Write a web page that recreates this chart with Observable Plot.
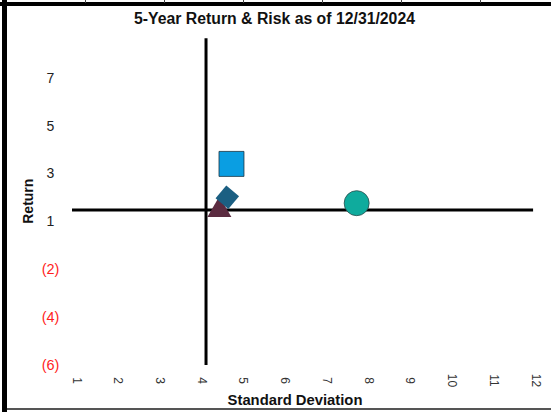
<!DOCTYPE html>
<html><head><meta charset="utf-8">
<script src="https://cdn.jsdelivr.net/npm/d3@7"></script>
<script src="https://cdn.jsdelivr.net/npm/@observablehq/plot@0.6"></script>
<style>
body{margin:0;background:#fff;font-family:"Liberation Sans",Arial,sans-serif}
#wrap{position:relative;width:551px;height:412px;overflow:hidden;background:#fff}
#title{width:549px;height:30px;box-sizing:border-box;padding-top:7px;line-height:24px;text-align:center;font-weight:bold;font-size:15.8px;color:#111}
.deco{position:absolute;background:#000}
</style></head>
<body><div id="wrap">
<div id="title">5-Year Return &amp; Risk as of 12/31/2024</div>
<div id="chart"></div>
</div>
<script>
// ---- data ----
const title = "5-Year Return & Risk as of 12/31/2024";
const xLabel = "Standard Deviation";
const yLabel = "Return";
const xTicks = [1,2,3,4,5,6,7,8,9,10,11,12];
const xTickLabels = ["1","2","3","4","5","6","7","8","9","10","11","12"];
const yTickValues = [7,5,3,1,-1,-3,-5];
const yTickLabels = ["7","5","3","1","(2)","(4)","(6)"];
const stdDev = [4.52, 4.71, 4.81, 7.81];   // triangle, diamond, square, circle
const returns = [1.49, 2.03, 3.42, 1.78];
const crossX = 4.2;   // vertical axis crossing (std dev)
const crossY = 1.5;   // horizontal axis crossing (return)

// ---- styles ----
const markerStyles = [
  {symbol:"triangle", r:8.9, fill:"#5b2b40", stroke:"none"},
  {symbol:"square", r:9.4, fill:"#1b5f82", stroke:"none", rotate:40},
  {symbol:"square", r:14.1, fill:"#0a9ee2", stroke:"#1d3644", strokeWidth:0.8},
  {symbol:"circle", r:12.5, fill:"#0fab9d", stroke:"#2b4b4b", strokeWidth:0.8}
];

const pts = stdDev.map((x,i)=>({x, y: returns[i], i}));
const posIdx = yTickLabels.map((l,i)=>i).filter(i=>!yTickLabels[i].startsWith("("));
const negIdx = yTickLabels.map((l,i)=>i).filter(i=>yTickLabels[i].startsWith("("));

const marks = [
  Plot.ruleX([crossX], {y1: -5, y2: 8.65, stroke:"#000", strokeWidth:3}),
  Plot.ruleY([crossY], {x1: 1, x2: 12.05, stroke:"#000", strokeWidth:3}),
  ...pts.map((p,i)=>Plot.dot([p], {x:"x", y:"y", ...markerStyles[i]})),
  Plot.text(posIdx, {y: i=>yTickValues[i], text: i=>yTickLabels[i], frameAnchor:"left", dx:-22, textAnchor:"middle", fontSize:14, fill:"#222"}),
  Plot.text(negIdx, {y: i=>yTickValues[i], text: i=>yTickLabels[i], frameAnchor:"left", dx:-22, textAnchor:"middle", fontSize:14.5, fill:"#ff1e1e"}),
  Plot.text(xTicks, {x: d=>d, text: (d,i)=>xTickLabels[i], frameAnchor:"bottom", dy:15, rotate:90, textAnchor:"middle", fontSize:12, fill:"#333"}),
  Plot.text([xLabel], {frameAnchor:"bottom", dy:39, dx:-7, text:d=>d, fontSize:14.8, fontWeight:"bold", fill:"#111"}),
  Plot.text([yLabel], {frameAnchor:"left", y: 0.92, dx:-44, text:d=>d, rotate:-90, fontSize:14, fontWeight:"bold", fill:"#111"})
];

const chart = Plot.plot({
  width: 551, height: 382,
  marginLeft: 72, marginRight: 20, marginTop: 7, marginBottom: 47,
  x: {domain:[1,12], axis:null},
  y: {domain:[-5,8.7], axis:null},
  style: {fontFamily:"'Liberation Sans', Arial, sans-serif", background:"transparent", overflow:"visible"},
  marks
});
document.getElementById("chart").appendChild(chart);

// frame decorations (spreadsheet borders)
const wrap = document.getElementById("wrap");
function deco(l,t,w,h,c){const d=document.createElement("div");d.className="deco";d.style.cssText=`left:${l}px;top:${t}px;width:${w}px;height:${h}px;background:${c}`;wrap.appendChild(d);}
deco(0,2,551,4,"#000");
deco(2,0,5,412,"#000");
deco(7,408,544,1.5,"#555");
[85,164,243,322,401,480].forEach(x=>deco(x,0,1,3,"#444"));
</script>
</body></html>
